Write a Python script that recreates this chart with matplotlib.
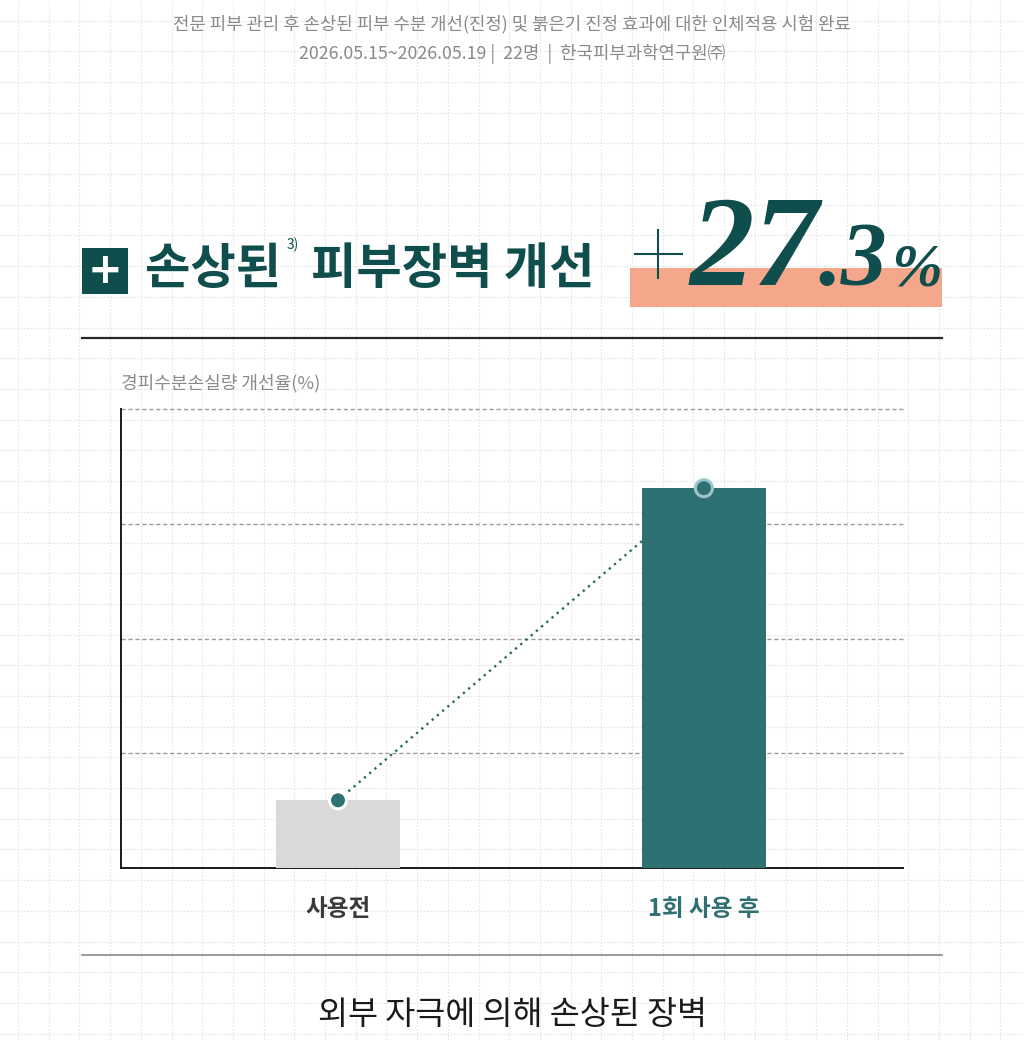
import matplotlib
matplotlib.use('Agg')
from matplotlib import pyplot as plt
from matplotlib.patches import Rectangle
from matplotlib.lines import Line2D
import numpy as np

plt.rcParams['font.family'] = ['Noto Sans CJK KR', 'DejaVu Sans']

# data
categories = ['사용전', '1회 사용 후']
values = [5.9, 33.1]
y_grid = [10, 20, 30, 40]
improvement = '+27.3%'

TEAL = '#2f7073'
DARK_TEAL = '#0f4e4c'
GRAY_BAR = '#d9d9d9'
SALMON = '#f5a78c'

W, H = 1024, 1040
fig = plt.figure(figsize=(W / 100, H / 100), dpi=100, facecolor='white')


def fx(x):
    return x / W


def fy(y):
    return 1 - y / H


# background grid paper
bg = fig.add_axes([0, 0, 1, 1], zorder=-10)
bg.set_xlim(0, W)
bg.set_ylim(H, 0)
bg.set_xticks(np.arange(18, W, 30.7))
bg.set_yticks(np.arange(20.6, H, 30.7))
bg.grid(True, color='#e4e4e4', lw=0.8, ls=(0, (1.5, 1.5)))
bg.tick_params(length=0, labelbottom=False, labelleft=False)
for s in bg.spines.values():
    s.set_visible(False)

# header
fig.text(fx(512), fy(24), '전문 피부 관리 후 손상된 피부 수분 개선(진정) 및 붉은기 진정 효과에 대한 인체적용 시험 완료',
         ha='center', va='center', fontsize=12.8, color='#8a8a8a')
fig.text(fx(512), fy(54), '2026.05.15~2026.05.19 |  22명  |  한국피부과학연구원㈜',
         ha='center', va='center', fontsize=12.8, color='#8a8a8a')

# title row
fig.patches.append(Rectangle((fx(82), fy(294)), fx(46), 46 / H, transform=fig.transFigure,
                             facecolor=DARK_TEAL, edgecolor='none'))
fig.text(fx(105), fy(271), '+', ha='center', va='center', fontsize=30, fontweight='bold',
         color='white', family='DejaVu Sans')
fig.text(fx(145), fy(270), '손상된', ha='left', va='center', fontsize=35.5, fontweight='heavy',
         color=DARK_TEAL)
fig.text(fx(287), fy(245), '3)', ha='left', va='center', fontsize=10, color=DARK_TEAL)
fig.text(fx(311), fy(270), '피부장벽 개선', ha='left', va='center', fontsize=35.5,
         fontweight='heavy', color=DARK_TEAL)

# big number
fig.patches.append(Rectangle((fx(630), fy(307)), fx(312), 39 / H, transform=fig.transFigure,
                             facecolor=SALMON, edgecolor='none'))
fig.add_artist(Line2D([fx(635), fx(682)], [fy(254), fy(254)], color=DARK_TEAL, lw=1.5))
fig.add_artist(Line2D([fx(658), fx(658)], [fy(230), fy(278)], color=DARK_TEAL, lw=1.5))
serif = dict(family='Liberation Serif', fontweight='bold', style='italic', color=DARK_TEAL,
             ha='left', va='baseline')
fig.text(fx(690), fy(285), improvement[1:3], fontsize=93, **serif)
fig.text(fx(818), fy(285), improvement[3:5], fontsize=66, **serif)
fig.text(fx(891), fy(285), improvement[5], fontsize=44, **serif)

# rules
fig.add_artist(Line2D([fx(82), fx(942)], [fy(338), fy(338)], color='#2a2a2a', lw=1.6))
fig.add_artist(Line2D([fx(82), fx(942)], [fy(955), fy(955)], color='#8a8a8a', lw=1.2))

# chart
fig.text(fx(121), fy(383), '경피수분손실량 개선율(%)', ha='left', va='center', fontsize=13,
         color='#8a8a8a')

ax = fig.add_axes([fx(121), fy(868), fx(782), (868 - 409) / H])
ax.patch.set_alpha(0)
x = np.arange(len(categories))
ax.set_xlim(-0.593, 1.544)
ax.set_ylim(0, y_grid[-1])
for g in y_grid:
    ax.axhline(g, color='#9a9a9a', lw=1, ls=(0, (3, 2)), zorder=1, clip_on=False)
ax.bar(x, values, width=0.339, color=[GRAY_BAR, TEAL], zorder=3)
ax.plot(x, values, color='#2d6868', lw=1.7, ls=(0, (1, 1.9)), zorder=2)
ax.scatter(x, values, s=150, c=TEAL, edgecolors=['white', '#9fc7cb'], linewidths=2.2,
           zorder=5, clip_on=False)

ax.set_xticks(x)
ax.set_xticklabels(categories, fontsize=17, fontweight='bold')
ax.set_yticks([])
ax.tick_params(axis='x', length=0, pad=21)
labels = ax.get_xticklabels()
labels[0].set_color('#3a3a3a')
labels[1].set_color(TEAL)
for side in ['top', 'right']:
    ax.spines[side].set_visible(False)
for side in ['left', 'bottom']:
    ax.spines[side].set_color('#1a1a1a')
    ax.spines[side].set_linewidth(1.4)

# footer
fig.text(fx(512), fy(1015), '외부 자극에 의해 손상된 장벽', ha='center', va='center',
         fontsize=23.5, color='#1a1a1a', fontweight='medium')

fig.savefig('out.png', dpi=100, facecolor='white')
